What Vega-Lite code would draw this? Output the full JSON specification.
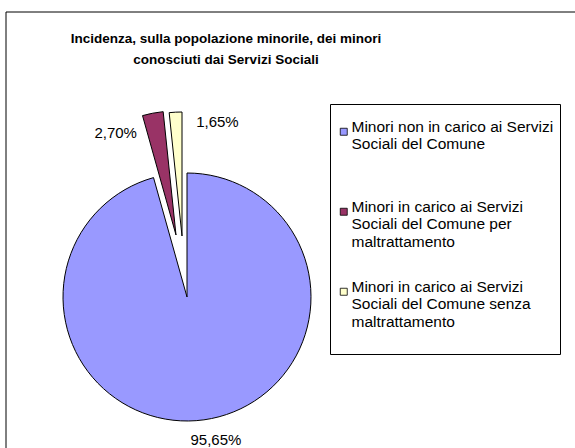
{
  "$schema": "https://vega.github.io/schema/vega-lite/v6.json",
  "width": 374,
  "height": 302,
  "autosize": {"type": "none"},
  "padding": {"left": 0, "top": 146, "right": 201, "bottom": 0},
  "background": "white",
  "title": {
    "text": ["Incidenza, sulla popolazione minorile, dei minori", "conosciuti dai Servizi Sociali"],
    "font": "Liberation Sans",
    "fontSize": 13.5,
    "fontWeight": "bold",
    "color": "black",
    "anchor": "middle",
    "dx": 39,
    "offset": 0,
    "dy": 55,
    "lineHeight": 21
  },
  "data": {
    "values": [
      {"cat": "Minori non in carico ai Servizi Sociali del Comune", "pct": 0.9565},
      {"cat": "Minori in carico ai Servizi Sociali del Comune per maltrattamento", "pct": 0.027},
      {"cat": "Minori in carico ai Servizi Sociali del Comune senza maltrattamento", "pct": 0.0165}
    ]
  },
  "layer": [
    {
      "data": {"values": [{}]},
      "mark": {"type": "rect", "filled": false, "stroke": "black", "strokeWidth": 1},
      "encoding": {"x": {"value": 6}, "y": {"value": -134}, "x2": {"value": 800}, "y2": {"value": 800}}
    },
    {
      "mark": {"type": "arc", "outerRadius": 124, "stroke": "black", "strokeWidth": 1},
      "encoding": {
        "theta": {"field": "pct", "type": "quantitative", "stack": true},
        "order": {"field": "pct", "sort": "descending"},
        "color": {
          "field": "cat", "type": "nominal",
          "scale": {
            "domain": ["Minori non in carico ai Servizi Sociali del Comune", "Minori in carico ai Servizi Sociali del Comune per maltrattamento", "Minori in carico ai Servizi Sociali del Comune senza maltrattamento"],
            "range": ["#9999FF", "#993366", "#FFFFCC"]
          },
          "legend": {
            "orient": "none",
            "legendX": 330,
            "legendY": -42,
            "title": " ",
            "titleFontSize": 6,
            "titlePadding": 8,
            "strokeColor": "black",
            "fillColor": "white",
            "padding": 6,
            "symbolType": "square",
            "symbolSize": 49,
            "symbolStrokeColor": "black",
            "symbolStrokeWidth": 0.8,
            "labelFont": "Liberation Sans",
            "labelFontSize": 15.5,
            "labelColor": "black",
            "labelBaseline": "alphabetic",
            "labelOffset": 0,
            "labelLimit": 400,
            "rowPadding": 11,
            "labelExpr": "datum.label == 'Minori non in carico ai Servizi Sociali del Comune' ? ['Minori non in carico ai Servizi', 'Sociali del Comune', ' ', ' '] : datum.label == 'Minori in carico ai Servizi Sociali del Comune per maltrattamento' ? ['Minori in carico ai Servizi', 'Sociali del Comune per', 'maltrattamento', ' '] : ['Minori in carico ai Servizi', 'Sociali del Comune senza', 'maltrattamento', ' ']"
          }
        },
        "opacity": {"condition": {"test": "datum.cat === 'Minori non in carico ai Servizi Sociali del Comune'", "value": 1}, "value": 0}
      }
    },
    {
      "mark": {"type": "arc", "outerRadius": 124, "stroke": "black", "strokeWidth": 1, "xOffset": -11, "yOffset": -62},
      "encoding": {
        "theta": {"field": "pct", "type": "quantitative", "stack": true},
        "order": {"field": "pct", "sort": "descending"},
        "color": {"field": "cat", "type": "nominal"},
        "opacity": {"condition": {"test": "datum.cat === 'Minori in carico ai Servizi Sociali del Comune per maltrattamento'", "value": 1}, "value": 0}
      }
    },
    {
      "mark": {"type": "arc", "outerRadius": 124, "stroke": "black", "strokeWidth": 1, "xOffset": -5, "yOffset": -61},
      "encoding": {
        "theta": {"field": "pct", "type": "quantitative", "stack": true},
        "order": {"field": "pct", "sort": "descending"},
        "color": {"field": "cat", "type": "nominal"},
        "opacity": {"condition": {"test": "datum.cat === 'Minori in carico ai Servizi Sociali del Comune senza maltrattamento'", "value": 1}, "value": 0}
      }
    },
    {
      "mark": {"type": "text", "radius": 146, "font": "Liberation Sans", "fontSize": 15, "color": "black", "dx": 9, "dy": -2},
      "encoding": {
        "theta": {"field": "pct", "type": "quantitative", "stack": true},
        "order": {"field": "pct", "sort": "descending"},
        "text": {"condition": {"test": "datum.cat === 'Minori non in carico ai Servizi Sociali del Comune'", "field": "pct", "type": "quantitative", "format": ".2%"}, "value": ""}
      }
    },
    {
      "mark": {"type": "text", "radius": 146, "font": "Liberation Sans", "fontSize": 15, "color": "black", "dx": -44, "dy": -21},
      "encoding": {
        "theta": {"field": "pct", "type": "quantitative", "stack": true},
        "order": {"field": "pct", "sort": "descending"},
        "text": {"condition": {"test": "datum.cat === 'Minori in carico ai Servizi Sociali del Comune per maltrattamento'", "field": "pct", "type": "quantitative", "format": ".2%"}, "value": ""}
      }
    },
    {
      "mark": {"type": "text", "radius": 146, "font": "Liberation Sans", "fontSize": 15, "color": "black", "dx": 38, "dy": -29},
      "encoding": {
        "theta": {"field": "pct", "type": "quantitative", "stack": true},
        "order": {"field": "pct", "sort": "descending"},
        "text": {"condition": {"test": "datum.cat === 'Minori in carico ai Servizi Sociali del Comune senza maltrattamento'", "field": "pct", "type": "quantitative", "format": ".2%"}, "value": ""}
      }
    }
  ],
  "config": {
    "view": {"stroke": null},
    "font": "Liberation Sans",
    "locale": {"number": {"decimal": ",", "thousands": ".", "grouping": [3], "currency": ["", " €"]}}
  }
}
